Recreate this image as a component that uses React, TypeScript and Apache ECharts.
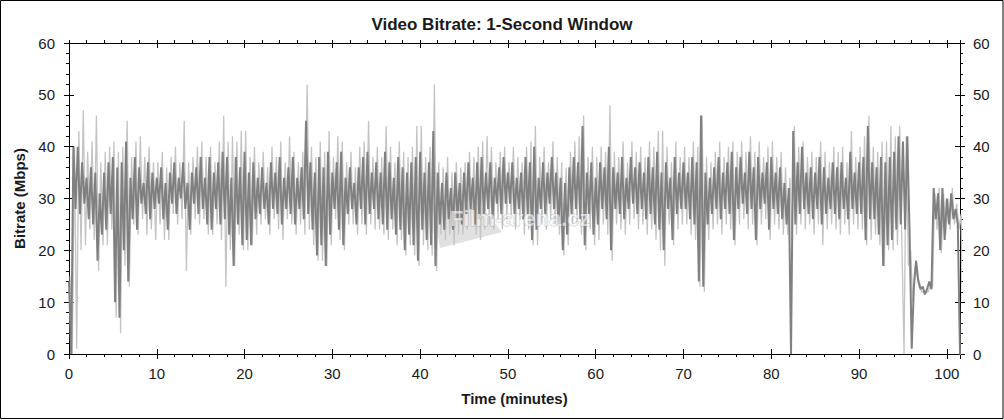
import React, { useEffect, useRef } from "react";
import * as echarts from "echarts";

// Time resolution of the readings (minutes). Each half-minute holds two dark-line
// samples (at t and t + 0.25) and two light-line samples (at t + 0.125 and t + 0.375).
const STEP = 0.5;
const X_MAX = 101.5;

const darkA = [
  14, 40, 40, 37, 34, 36, 35, 31, 35, 37,
  38, 36, 37, 41, 34, 38, 36, 33, 37, 35,
  34, 36, 33, 35, 37, 34, 37, 33, 35, 36,
  38, 34, 38, 35, 37, 39, 38, 34, 38, 36,
  39, 35, 37, 34, 36, 33, 37, 35, 38, 34,
  36, 38, 34, 36, 45, 37, 35, 38, 36, 39,
  35, 37, 39, 34, 36, 33, 36, 38, 39, 35,
  37, 35, 39, 37, 34, 38, 36, 35, 37, 38,
  39, 35, 37, 43, 35, 33, 35, 32, 35, 33,
  35, 37, 34, 37, 38, 35, 37, 34, 36, 38,
  35, 37, 34, 35, 38, 37, 40, 34, 37, 35,
  38, 35, 34, 33, 36, 38, 37, 44, 35, 37,
  34, 37, 36, 40, 36, 35, 38, 34, 38, 36,
  37, 35, 38, 36, 39, 35, 37, 34, 38, 35,
  37, 35, 38, 37, 46, 35, 34, 36, 38, 35,
  37, 39, 36, 38, 35, 39, 36, 38, 35, 37,
  38, 35, 36, 33, 32, 43, 37, 40, 35, 36,
  35, 38, 36, 34, 37, 36, 37, 34, 39, 35,
  37, 38, 44, 37, 36, 38, 37, 38, 39, 42,
  41, 42, 1, 18, 12.5, 11.5, 14, 32, 31, 32,
  30, 31, 28, 0,
];

const darkB = [
  0, 28, 27, 29, 26, 25, 18, 23, 24, 27,
  10, 7, 20, 14, 26, 24, 29, 27, 26, 28,
  29, 26, 24, 29, 27, 30, 28, 24, 29, 27,
  28, 25, 24, 28, 25, 26, 23, 17, 25, 21,
  22, 21, 26, 27, 28, 25, 28, 27, 25, 28,
  27, 25, 28, 26, 27, 24, 19, 21, 17, 23,
  28, 24, 21, 27, 28, 25, 28, 25, 27, 28,
  26, 25, 24, 26, 23, 24, 20, 23, 21, 18,
  24, 22, 21, 17, 25, 24, 26, 24, 26, 25,
  27, 28, 25, 26, 27, 28, 26, 29, 27, 29,
  29, 27, 28, 26, 27, 22, 24, 28, 27, 29,
  28, 25, 20, 23, 27, 28, 26, 21, 27, 23,
  25, 28, 26, 20, 28, 27, 26, 28, 29, 27,
  28, 26, 27, 25, 24, 20, 28, 22, 27, 28,
  28, 26, 25, 14, 13, 25, 27, 28, 26, 28,
  27, 22, 28, 29, 27, 28, 22, 28, 29, 24,
  28, 27, 26, 25, 0, 25, 27, 28, 27, 26,
  28, 25, 27, 28, 27, 26, 28, 26, 28, 27,
  27, 22, 26, 26, 23, 17, 21, 22, 24, 25,
  24, 24, 13, 14, 13, 12.5, 12.5, 26, 20, 22,
  25, 26, 25, 0,
];

const lightA = [
  15, 40, 43, 47, 39, 41, 46, 37, 39, 40,
  41, 39, 40, 45, 38, 41, 42, 38, 40, 37,
  37, 39, 36, 38, 40, 37, 45, 37, 38, 40,
  41, 38, 40, 37, 41, 46, 41, 42, 41, 43,
  43, 38, 40, 37, 39, 36, 40, 38, 41, 37,
  42, 39, 37, 39, 52, 40, 38, 41, 39, 43,
  38, 42, 41, 37, 39, 36, 40, 41, 45, 38,
  40, 38, 44, 40, 37, 41, 39, 38, 40, 44,
  44, 38, 40, 52, 37, 36, 38, 35, 37, 36,
  37, 39, 38, 40, 41, 42, 40, 37, 39, 40,
  37, 40, 38, 37, 40, 41, 44, 38, 40, 37,
  41, 38, 37, 36, 39, 41, 42, 46, 38, 40,
  38, 40, 39, 48, 39, 38, 41, 37, 41, 39,
  40, 38, 41, 40, 43, 43, 40, 37, 41, 38,
  40, 38, 41, 40, 46, 38, 37, 39, 41, 38,
  40, 41, 39, 41, 39, 42, 39, 41, 38, 40,
  41, 38, 39, 36, 34, 44, 40, 41, 38, 39,
  38, 41, 39, 37, 40, 39, 40, 37, 43, 38,
  40, 42, 46, 40, 39, 41, 41, 44, 42, 44,
  0, 17, 10, 15, 12, 12, 13, 31, 32, 31,
  30, 32, 29, 27,
];

const lightB = [
  0, 1, 20, 21, 24, 22, 16, 21, 21, 24,
  7, 4, 17, 13, 25, 23, 26, 23, 24, 22,
  25, 22, 22, 27, 25, 26, 16, 23, 26, 25,
  26, 23, 23, 25, 22, 13, 20, 17, 23, 20,
  20, 21, 23, 25, 26, 23, 26, 24, 22, 26,
  25, 23, 25, 23, 24, 21, 18, 18, 17, 21,
  26, 22, 20, 25, 25, 23, 25, 23, 25, 24,
  24, 23, 22, 24, 21, 22, 19, 21, 19, 17,
  21, 20, 19, 16, 23, 22, 23, 21, 23, 23,
  24, 25, 23, 22, 24, 25, 24, 26, 24, 26,
  26, 24, 26, 23, 24, 21, 21, 25, 24, 26,
  25, 23, 19, 21, 25, 25, 23, 20, 24, 21,
  22, 25, 23, 18, 25, 24, 23, 25, 26, 24,
  25, 23, 24, 22, 20, 17, 25, 21, 24, 25,
  25, 23, 22, 13, 12, 22, 24, 25, 23, 25,
  24, 21, 25, 26, 24, 25, 21, 25, 26, 22,
  25, 24, 23, 23, 22, 23, 25, 24, 25, 23,
  25, 21, 24, 25, 24, 23, 25, 23, 25, 24,
  24, 21, 22, 23, 21, 17, 20, 20, 21, 22,
  42, 20, 17, 14, 12, 12, 13, 24, 19.5, 23,
  24, 25, 24, 0,
];

const TITLE = "Video Bitrate: 1-Second Window";
const X_NAME = "Time (minutes)";
const Y_NAME = "Bitrate (Mbps)";
const WATERMARK = "Film-arena.cz";

const FONT = "'Liberation Sans', Arial, Helvetica, sans-serif";
const INK = "#1a1a1a";

export default function App() {
  const ref = useRef<HTMLDivElement>(null);

  useEffect(() => {
    if (!ref.current) return;
    const chart = echarts.init(ref.current, null, { renderer: "svg" });

    const darkData: number[][] = [];
    darkA.forEach((v, i) => {
      darkData.push([i * STEP, v]);
      darkData.push([i * STEP + STEP / 2, darkB[i]]);
    });
    const lightData: number[][] = [];
    lightA.forEach((v, i) => {
      lightData.push([i * STEP + STEP / 4, v]);
      lightData.push([i * STEP + (3 * STEP) / 4, lightB[i]]);
    });

    const xBase = { type: "value" as const, min: 0, max: X_MAX, interval: 10, splitLine: { show: false } };
    const yBase = { type: "value" as const, min: 0, max: 60, interval: 10, splitLine: { show: false } };
    const black = { color: "#000", width: 1 };
    const label = { fontSize: 15, color: INK, fontFamily: FONT };
    const nameStyle = { fontSize: 15, fontWeight: "bold" as const, color: INK, fontFamily: FONT };

    chart.setOption({
      animation: false,
      backgroundColor: "#fff",
      title: {
        text: TITLE,
        left: "center",
        top: 11,
        textStyle: { fontSize: 17, fontWeight: "bold", color: INK, fontFamily: FONT },
      },
      grid: { left: 69, right: 44, top: 43, bottom: 66, containLabel: false },
      xAxis: [
        {
          ...xBase,
          position: "bottom",
          axisLine: { show: true, onZero: false, lineStyle: black },
          axisTick: { show: true, length: 5, lineStyle: black },
          minorTick: { show: true, splitNumber: 5, length: 3, lineStyle: black },
          axisLabel: { ...label, margin: 12 },
          name: X_NAME,
          nameLocation: "middle",
          nameGap: 37,
          nameTextStyle: nameStyle,
        },
        {
          ...xBase,
          position: "bottom",
          axisLine: { show: false, onZero: false },
          axisTick: { show: true, inside: true, length: 5, lineStyle: black },
          axisLabel: { show: false },
        },
        {
          ...xBase,
          position: "top",
          axisLine: { show: true, onZero: false, lineStyle: black },
          axisTick: { show: true, length: 3, lineStyle: black },
          minorTick: { show: true, splitNumber: 5, length: 3, lineStyle: black },
          axisLabel: { show: false },
        },
        {
          ...xBase,
          position: "top",
          axisLine: { show: false, onZero: false },
          axisTick: { show: true, inside: true, length: 5, lineStyle: black },
          axisLabel: { show: false },
        },
      ],
      yAxis: [
        {
          ...yBase,
          position: "left",
          axisLine: { show: true, onZero: false, lineStyle: black },
          axisTick: { show: true, length: 5, lineStyle: black },
          minorTick: { show: true, splitNumber: 5, length: 3, lineStyle: black },
          axisLabel: { ...label, margin: 14 },
          name: Y_NAME,
          nameLocation: "middle",
          nameGap: 42,
          nameRotate: 90,
          nameTextStyle: nameStyle,
        },
        {
          ...yBase,
          position: "left",
          axisLine: { show: false, onZero: false },
          axisTick: { show: true, inside: true, length: 5, lineStyle: black },
          axisLabel: { show: false },
        },
        {
          ...yBase,
          position: "right",
          axisLine: { show: true, onZero: false, lineStyle: black },
          axisTick: { show: true, length: 5, lineStyle: black },
          minorTick: { show: true, splitNumber: 5, length: 3, lineStyle: black },
          axisLabel: { ...label, margin: 13 },
        },
        {
          ...yBase,
          position: "right",
          axisLine: { show: false, onZero: false },
          axisTick: { show: true, inside: true, length: 5, lineStyle: black },
          axisLabel: { show: false },
        },
      ],
      series: [
        {
          type: "line",
          xAxisIndex: 0,
          yAxisIndex: 0,
          data: lightData,
          showSymbol: false,
          symbol: "none",
          lineStyle: { color: "#c4c4c4", width: 1.3 },
          z: 2,
          silent: true,
        },
        {
          type: "line",
          xAxisIndex: 0,
          yAxisIndex: 0,
          data: darkData,
          showSymbol: false,
          symbol: "none",
          lineStyle: { color: "#808080", width: 2 },
          z: 3,
          silent: true,
        },
      ],
      graphic: [
        {
          type: "rect",
          shape: { x: 0.5, y: 0.5, width: 1002.5, height: 418 },
          style: { fill: "none", stroke: "#000", lineWidth: 1 },
          z: 100,
          silent: true,
        },
        {
          type: "polygon",
          shape: { points: [[432, 205], [470, 192], [502, 232], [440, 248]] },
          style: { fill: "rgba(200,200,200,0.55)" },
          z: 1,
          silent: true,
        },
        {
          type: "text",
          x: 450,
          y: 207,
          style: {
            text: WATERMARK,
            fontSize: 22,
            fontWeight: "bold",
            fontFamily: FONT,
            fill: "rgba(255,255,255,0.6)",
            stroke: "rgba(150,150,150,0.45)",
            lineWidth: 1,
          },
          z: 50,
          silent: true,
        },
      ],
    });

    return () => chart.dispose();
  }, []);

  return (
    <div
      ref={ref}
      style={{ position: "fixed", left: 0, top: 0, width: 1004, height: 420, background: "#fff" }}
    />
  );
}
